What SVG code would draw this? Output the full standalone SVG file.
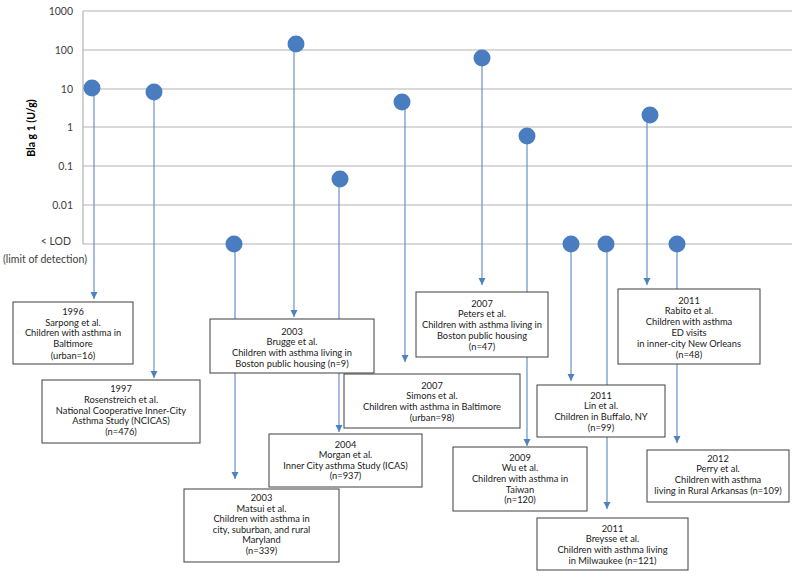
<svg xmlns="http://www.w3.org/2000/svg" width="800" height="579" viewBox="0 0 800 579">
<defs>
<marker id="arr" markerUnits="userSpaceOnUse" markerWidth="8" markerHeight="8" refX="7" refY="3.5" orient="auto">
<path d="M0,0 L7,3.5 L0,7 z" fill="#4F81BD"/>
</marker>
<style>
.grid{stroke:#B3B3B3;stroke-width:1.2}
.tick{font-family:Lato,"Liberation Sans",sans-serif;font-size:10.5px;fill:#404040;text-anchor:end}
.ytitle{font-family:Lato,"Liberation Sans",sans-serif;font-size:10.5px;font-weight:bold;fill:#000;text-anchor:middle}
.conn line{stroke:#5A86C2;stroke-width:1.1;marker-end:url(#arr)}
.pt{fill:#4A7CC0}
.box{fill:#fff;stroke:#3F3F3F;stroke-width:1}
.lbl{font-family:Lato,"Liberation Sans",sans-serif;font-size:9.3px;fill:#1a1a1a;text-anchor:middle}
</style>
</defs>
<rect width="800" height="579" fill="#fff"/>
<g id="axes">
<line class="grid" x1="83" y1="11" x2="792" y2="11"/>
<line class="grid" x1="83" y1="50" x2="792" y2="50"/>
<line class="grid" x1="83" y1="89" x2="792" y2="89"/>
<line class="grid" x1="83" y1="127" x2="792" y2="127"/>
<line class="grid" x1="83" y1="166" x2="792" y2="166"/>
<line class="grid" x1="83" y1="205" x2="792" y2="205"/>
<line class="grid" x1="83" y1="244" x2="792" y2="244"/>
<line class="grid" x1="83" y1="11" x2="83" y2="244"/>
<text class="tick" x="73" y="15">1000</text>
<text class="tick" x="73" y="54">100</text>
<text class="tick" x="73" y="93">10</text>
<text class="tick" x="73" y="131">1</text>
<text class="tick" x="73" y="170">0.1</text>
<text class="tick" x="73" y="209">0.01</text>
<text class="tick" x="71" y="245">&lt; LOD</text>
<text class="tick" x="45" y="263" style="text-anchor:middle">(limit of detection)</text>
<text class="ytitle" transform="translate(35,128) rotate(-90)">Bla g 1 (U/g)</text>
</g>
<g id="connectors" class="conn">
<line x1="94" y1="88" x2="94" y2="299"/>
<line x1="154" y1="92" x2="154" y2="378"/>
<line x1="235" y1="244" x2="235" y2="479"/>
<line x1="294" y1="44" x2="294" y2="317"/>
<line x1="339" y1="179" x2="339" y2="432"/>
<line x1="405" y1="102" x2="405" y2="362"/>
<line x1="482" y1="58" x2="482" y2="285"/>
<line x1="527" y1="136" x2="527" y2="446"/>
<line x1="571" y1="244" x2="571" y2="381"/>
<line x1="607" y1="244" x2="607" y2="509"/>
<line x1="647" y1="115" x2="647" y2="285"/>
<line x1="677" y1="244" x2="677" y2="443"/>
</g>
<g id="sarpong">
<circle class="pt" cx="92" cy="88" r="8.5"/>
<rect class="box" x="13" y="302" width="120" height="62"/>
<text class="lbl" x="73" y="315"><tspan x="73">1996</tspan><tspan x="73" dy="10.7">Sarpong et al.</tspan><tspan x="73" dy="10.7">Children with asthma in</tspan><tspan x="73" dy="10.7">Baltimore</tspan><tspan x="73" dy="11.5">(urban=16)</tspan></text>
</g>
<g id="rosenstreich">
<circle class="pt" cx="154" cy="92" r="8.5"/>
<rect class="box" x="42" y="380" width="158" height="63"/>
<text class="lbl" x="121" y="392"><tspan x="121">1997</tspan><tspan x="121" dy="10.8">Rosenstreich et al.</tspan><tspan x="121" dy="10.8">National Cooperative Inner-City</tspan><tspan x="121" dy="10.8">Asthma Study (NCICAS)</tspan><tspan x="121" dy="10.8">(n=476)</tspan></text>
</g>
<g id="matsui">
<circle class="pt" cx="234" cy="244" r="8.5"/>
<rect class="box" x="184" y="489" width="155" height="73"/>
<text class="lbl" x="261.5" y="501"><tspan x="261.5">2003</tspan><tspan x="261.5" dy="10.6">Matsui et al.</tspan><tspan x="261.5" dy="10.6">Children with asthma in</tspan><tspan x="261.5" dy="10.6">city, suburban, and rural</tspan><tspan x="261.5" dy="10.6">Maryland</tspan><tspan x="261.5" dy="10.6">(n=339)</tspan></text>
</g>
<g id="brugge">
<circle class="pt" cx="296" cy="44" r="8.5"/>
<rect class="box" x="210" y="319" width="164" height="54"/>
<text class="lbl" x="292" y="334.5"><tspan x="292">2003</tspan><tspan x="292" dy="10.7">Brugge et al.</tspan><tspan x="292" dy="10.7">Children with asthma living in</tspan><tspan x="292" dy="10.7">Boston public housing (n=9)</tspan></text>
</g>
<g id="morgan">
<circle class="pt" cx="340" cy="179" r="8.5"/>
<rect class="box" x="269" y="434" width="153" height="53"/>
<text class="lbl" x="345.5" y="447.5"><tspan x="345.5">2004</tspan><tspan x="345.5" dy="10.6">Morgan et al.</tspan><tspan x="345.5" dy="10.6">Inner City asthma Study (ICAS)</tspan><tspan x="345.5" dy="10.6">(n=937)</tspan></text>
</g>
<g id="simons">
<circle class="pt" cx="402" cy="102" r="8.5"/>
<rect class="box" x="344" y="374" width="176" height="54"/>
<text class="lbl" x="432" y="388.5"><tspan x="432">2007</tspan><tspan x="432" dy="10.8">Simons et al.</tspan><tspan x="432" dy="10.8">Children with asthma in Baltimore</tspan><tspan x="432" dy="10.8">(urban=98)</tspan></text>
</g>
<g id="peters">
<circle class="pt" cx="482" cy="58" r="8.5"/>
<rect class="box" x="416" y="292" width="132" height="65"/>
<text class="lbl" x="482" y="306.5"><tspan x="482">2007</tspan><tspan x="482" dy="10.8">Peters et al.</tspan><tspan x="482" dy="10.8">Children with asthma living in</tspan><tspan x="482" dy="10.8">Boston public housing</tspan><tspan x="482" dy="10.8">(n=47)</tspan></text>
</g>
<g id="wu">
<circle class="pt" cx="527" cy="136" r="8.5"/>
<rect class="box" x="453" y="447" width="134" height="64"/>
<text class="lbl" x="520" y="460.5"><tspan x="520">2009</tspan><tspan x="520" dy="10.7">Wu et al.</tspan><tspan x="520" dy="10.7">Children with asthma in</tspan><tspan x="520" dy="10.7">Taiwan</tspan><tspan x="520" dy="10.7">(n=120)</tspan></text>
</g>
<g id="lin">
<circle class="pt" cx="571" cy="244" r="8.5"/>
<rect class="box" x="537" y="385" width="128" height="52"/>
<text class="lbl" x="601" y="398.5"><tspan x="601">2011</tspan><tspan x="601" dy="10.7">Lin et al.</tspan><tspan x="601" dy="10.7">Children in Buffalo, NY</tspan><tspan x="601" dy="10.7">(n=99)</tspan></text>
</g>
<g id="breysse">
<circle class="pt" cx="606" cy="244" r="8.5"/>
<rect class="box" x="537" y="518" width="151" height="52"/>
<text class="lbl" x="612.5" y="531.5"><tspan x="612.5">2011</tspan><tspan x="612.5" dy="10.8">Breysse et al.</tspan><tspan x="612.5" dy="10.8">Children with asthma living</tspan><tspan x="612.5" dy="10.8">in Milwaukee (n=121)</tspan></text>
</g>
<g id="rabito">
<circle class="pt" cx="650" cy="115" r="8.5"/>
<rect class="box" x="618" y="289" width="142" height="75"/>
<text class="lbl" x="689" y="303.5"><tspan x="689">2011</tspan><tspan x="689" dy="10.9">Rabito et al.</tspan><tspan x="689" dy="10.9">Children with asthma</tspan><tspan x="689" dy="10.9">ED visits</tspan><tspan x="689" dy="10.9">in inner-city New Orleans</tspan><tspan x="689" dy="10.9">(n=48)</tspan></text>
</g>
<g id="perry">
<circle class="pt" cx="677" cy="244" r="8.5"/>
<rect class="box" x="647" y="450" width="142" height="52"/>
<text class="lbl" x="718" y="461.5"><tspan x="718">2012</tspan><tspan x="718" dy="10.8">Perry et al.</tspan><tspan x="718" dy="10.8">Children with asthma</tspan><tspan x="718" dy="10.8">living in Rural Arkansas (n=109)</tspan></text>
</g>
</svg>
